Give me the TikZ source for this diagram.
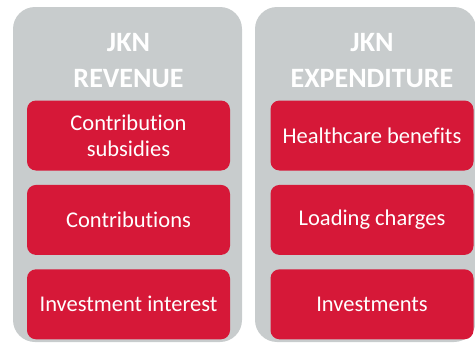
\documentclass[tikz,border=0pt]{standalone}
\usepackage{fontspec}
\setmainfont[Ligatures=NoCommon]{Carlito}
\usetikzlibrary{positioning}

\definecolor{jknred}{RGB}{214,24,56}
\definecolor{jkngrey}{RGB}{200,204,205}

\tikzset{
  panel/.style    ={fill=jkngrey, rounded corners=22pt, inner sep=0pt},
  itembox/.style  ={fill=jknred, rounded corners=9pt, text=white, align=center,
                    minimum width=203pt, minimum height=70pt, inner sep=0pt,
                    font=\fontsize{22.5}{26}\selectfont},
  headtext/.style ={text=white, align=center, inner sep=0pt,
                    font=\bfseries\fontsize{28}{36}\selectfont},
}

\begin{document}
\begin{tikzpicture}[node distance=14pt]
  \useasboundingbox (0,0) rectangle (475pt,-343pt);
  % Define nodes
  \node[panel, minimum width=229pt, minimum height=335pt] (rev) at (127.5pt,-174.5pt) {};
  \node[panel, minimum width=221pt, minimum height=335pt] (exp) at (365.5pt,-174.5pt) {};

  \node[itembox]                (rev1) at (128.5pt,-135.5pt) {Contribution\\subsidies};
  \node[itembox, below=of rev1] (rev2) {Contributions};
  \node[itembox, below=of rev2] (rev3) {Investment interest};
  \node[headtext, above=12pt of rev1] (revhead) {JKN\\REVENUE};

  \node[itembox]                (exp1) at (372pt,-135.5pt) {Healthcare benefits};
  \node[itembox, below=of exp1] (exp2) {Loading charges};
  \node[itembox, below=of exp2] (exp3) {Investments};
  \node[headtext, above=12pt of exp1] (exphead) {JKN\\EXPENDITURE};
\end{tikzpicture}
\end{document}
